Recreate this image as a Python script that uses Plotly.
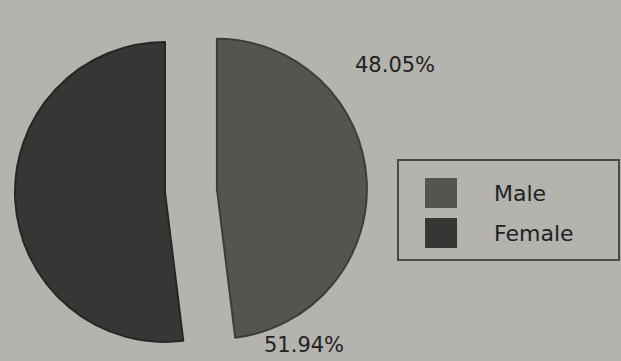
import math
import plotly.graph_objects as go

# Data
labels = ["Male", "Female"]
values = [48.05, 51.94]
colors = ["#545551", "#363734"]
edge_colors = ["#3c3d3a", "#262725"]

# Canvas and pie geometry (pixels)
W, H = 621, 361
R = 150              # pie radius
CX, CY = 165, 192    # centre of the un-pulled pie
PULL_PX = 52         # how far the first slice is pulled out

BG = "#b4b3ae"
TEXT = "#222222"
FONT = "DejaVu Sans"


def px_domain(cx, cy, r):
    """Square pie domain (paper coords) for a pie of radius r centred at pixel (cx, cy)."""
    return dict(x=[(cx - r) / W, (cx + r) / W],
                y=[1 - (cy + r) / H, 1 - (cy - r) / H])


total = sum(values)
start = 0.0
fig = go.Figure()
for i, lab in enumerate(labels):
    frac = values[i] / total
    mid = math.radians(360 * (start + frac / 2))
    start += frac
    off = PULL_PX if i == 0 else 0
    cx = CX + off * math.sin(mid)
    cy = CY - off * math.cos(mid)
    fill = [c if j == i else "rgba(0,0,0,0)" for j, c in enumerate(colors)]
    line = [c if j == i else "rgba(0,0,0,0)" for j, c in enumerate(edge_colors)]
    fig.add_trace(go.Pie(
        labels=labels,
        values=values,
        sort=False,
        direction="clockwise",
        rotation=0,
        marker=dict(colors=fill, line=dict(color=line, width=2)),
        textinfo="none",
        hoverinfo="label+value",
        showlegend=False,
        domain=px_domain(cx, cy, R),
        name=lab,
    ))

# Value labels
label_pos = [(395, 65), (304, 345)]
annotations = []
for v, (x, y) in zip(values, label_pos):
    annotations.append(dict(
        x=x / W, y=1 - y / H, xref="paper", yref="paper",
        text=f"{v:.2f}%", showarrow=False,
        font=dict(family=FONT, size=21, color=TEXT),
        xanchor="center", yanchor="middle",
    ))

# Legend box with swatches
shapes = [dict(type="rect", xref="paper", yref="paper",
               x0=398 / W, x1=619 / W, y0=1 - 260 / H, y1=1 - 160 / H,
               line=dict(color="#4a4a48", width=2), fillcolor="rgba(0,0,0,0)")]
legend_rows = [193, 233]
for lab, col, yc in zip(labels, colors, legend_rows):
    shapes.append(dict(type="rect", xref="paper", yref="paper",
                       x0=425 / W, x1=457 / W,
                       y0=1 - (yc + 15) / H, y1=1 - (yc - 15) / H,
                       line=dict(width=0), fillcolor=col))
    annotations.append(dict(
        x=492 / W, y=1 - yc / H, xref="paper", yref="paper",
        text=lab, showarrow=False,
        font=dict(family=FONT, size=22, color=TEXT),
        xanchor="left", yanchor="middle",
    ))

fig.update_layout(
    width=W, height=H,
    margin=dict(l=0, r=0, t=0, b=0),
    paper_bgcolor=BG,
    plot_bgcolor=BG,
    shapes=shapes,
    annotations=annotations,
)

fig.write_html("out.html")
